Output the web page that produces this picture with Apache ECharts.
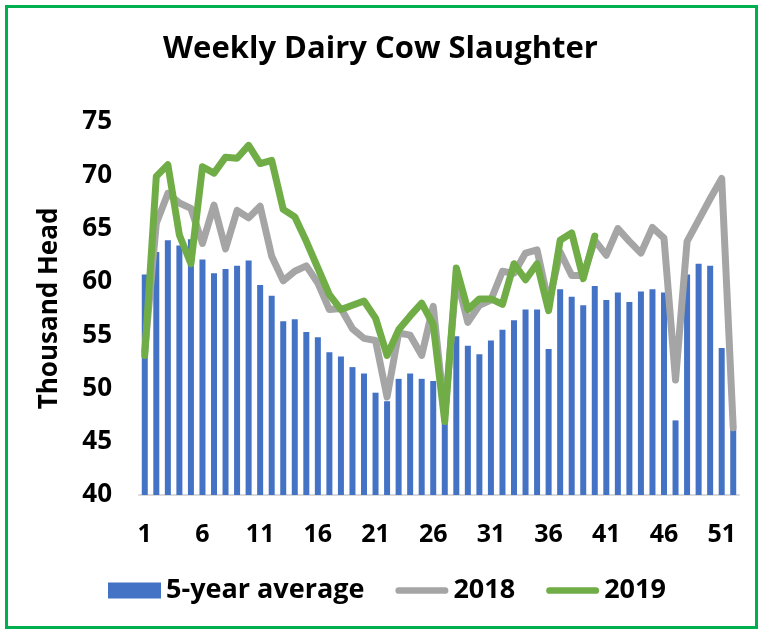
<!DOCTYPE html>
<html>
<head>
<meta charset="utf-8">
<script src="https://cdn.jsdelivr.net/npm/echarts@6/dist/echarts.min.js"></script>
<style>
  html, body { margin: 0; padding: 0; background: #fff; }
  #chart { width: 761px; height: 633px; }
</style>
</head>
<body>
<div id="chart"></div>
<script>
// weeks 1..52
var weeks = [];
for (var i = 1; i <= 52; i++) weeks.push(String(i));

var avg5 = [60.7, 62.8, 63.9, 63.4, 64.0, 62.1, 60.8, 61.2, 61.5, 62.0,
            59.7, 58.7, 56.3, 56.5, 55.3, 54.8, 53.4, 53.0, 52.0, 51.4,
            49.6, 48.8, 50.9, 51.4, 50.9, 50.7, 47.1, 54.9, 54.0, 53.2,
            54.5, 55.5, 56.4, 57.4, 57.4, 53.7, 59.3, 58.6, 57.8, 59.6,
            58.3, 59.0, 58.1, 59.1, 59.3, 59.0, 47.0, 60.7, 61.7, 61.5,
            53.8, 46.1];

var y2018 = [53.5, 65.5, 68.3, 67.4, 66.9, 63.6, 67.2, 63.1, 66.7, 66.0,
             67.1, 62.4, 60.1, 61.0, 61.5, 59.9, 57.4, 57.5, 55.6, 54.7,
             54.5, 49.2, 55.2, 55.0, 53.1, 57.7, 47.5, 60.5, 56.2, 57.8,
             58.3, 61.0, 60.8, 62.7, 63.0, 58.0, 62.8, 60.6, 60.6, 63.9,
             62.5, 65.0, 63.8, 62.7, 65.1, 64.1, 50.8, 63.8, 65.8, 67.8,
             69.7, 46.3];

var y2019 = [53.1, 69.9, 71.0, 64.4, 61.7, 70.8, 70.2, 71.7, 71.6, 72.8,
             71.1, 71.4, 66.8, 66.1, 63.8, 61.3, 58.8, 57.4, 57.8, 58.2,
             56.6, 53.1, 55.5, 56.8, 58.0, 56.0, 46.9, 61.3, 57.4, 58.4,
             58.4, 57.9, 61.7, 60.2, 61.7, 57.3, 63.9, 64.6, 60.3, 64.3];

var font = '"Open Sans", Lato, sans-serif';
// short thick line with round ends, for the legend
var lineIcon = 'path://M3.5,0 L51.5,0 A3.5,3.5 0 0 1 51.5,7 L3.5,7 A3.5,3.5 0 0 1 3.5,0 Z';

var myChart = echarts.init(document.getElementById('chart'));
myChart.setOption({
    animation: false,
    backgroundColor: '#fff',
    textStyle: { fontFamily: font },
    title: {
        text: 'Weekly Dairy Cow Slaughter',
        left: 'center',
        top: 29,
        textStyle: { fontFamily: font, fontSize: 31, fontWeight: 'bold', color: '#000' }
    },
    // green frame round the chart
    graphic: [{
        type: 'rect',
        shape: { x: 6.5, y: 6.5, width: 750, height: 621 },
        style: { fill: 'none', stroke: '#00B050', lineWidth: 3 },
        silent: true
    }],
    legend: {
        left: 108,
        top: 577,
        padding: 0,
        itemWidth: 53,
        itemHeight: 16,
        itemGap: 31,
        textStyle: { fontFamily: font, fontSize: 27, fontWeight: 'bold', color: '#000' },
        data: [
            { name: '5-year average', icon: 'rect' },
            { name: '2018', icon: lineIcon },
            { name: '2019', icon: lineIcon }
        ]
    },
    grid: {
        left: 139,
        right: 22,
        top: 122,
        bottom: 138
    },
    xAxis: {
        type: 'category',
        data: weeks,
        axisTick: { show: false },
        axisLine: { lineStyle: { color: '#D9D9D9', width: 2 } },
        axisLabel: {
            interval: 4,
            margin: 27,
            fontFamily: font,
            fontSize: 25,
            fontWeight: 'bold',
            color: '#000'
        }
    },
    yAxis: {
        type: 'value',
        min: 40,
        max: 75,
        interval: 5,
        name: 'Thousand Head',
        nameLocation: 'middle',
        nameRotate: 90,
        nameGap: 76,
        nameTextStyle: { fontFamily: font, fontSize: 26, fontWeight: 'bold', color: '#000' },
        axisLine: { show: false },
        axisTick: { show: false },
        splitLine: { show: false },
        axisLabel: {
            margin: 27,
            fontFamily: font,
            fontSize: 26,
            fontWeight: 'bold',
            color: '#000'
        }
    },
    series: [
        {
            name: '5-year average',
            type: 'bar',
            data: avg5,
            barWidth: 6,
            itemStyle: { color: '#4472C4' }
        },
        {
            name: '2018',
            type: 'line',
            data: y2018,
            symbol: 'none',
            lineStyle: { color: '#A5A5A5', width: 7, cap: 'round', join: 'round' },
            itemStyle: { color: '#A5A5A5' }
        },
        {
            name: '2019',
            type: 'line',
            data: y2019,
            symbol: 'none',
            lineStyle: { color: '#70AD47', width: 7, cap: 'round', join: 'round' },
            itemStyle: { color: '#70AD47' }
        }
    ]
});
</script>
</body>
</html>
